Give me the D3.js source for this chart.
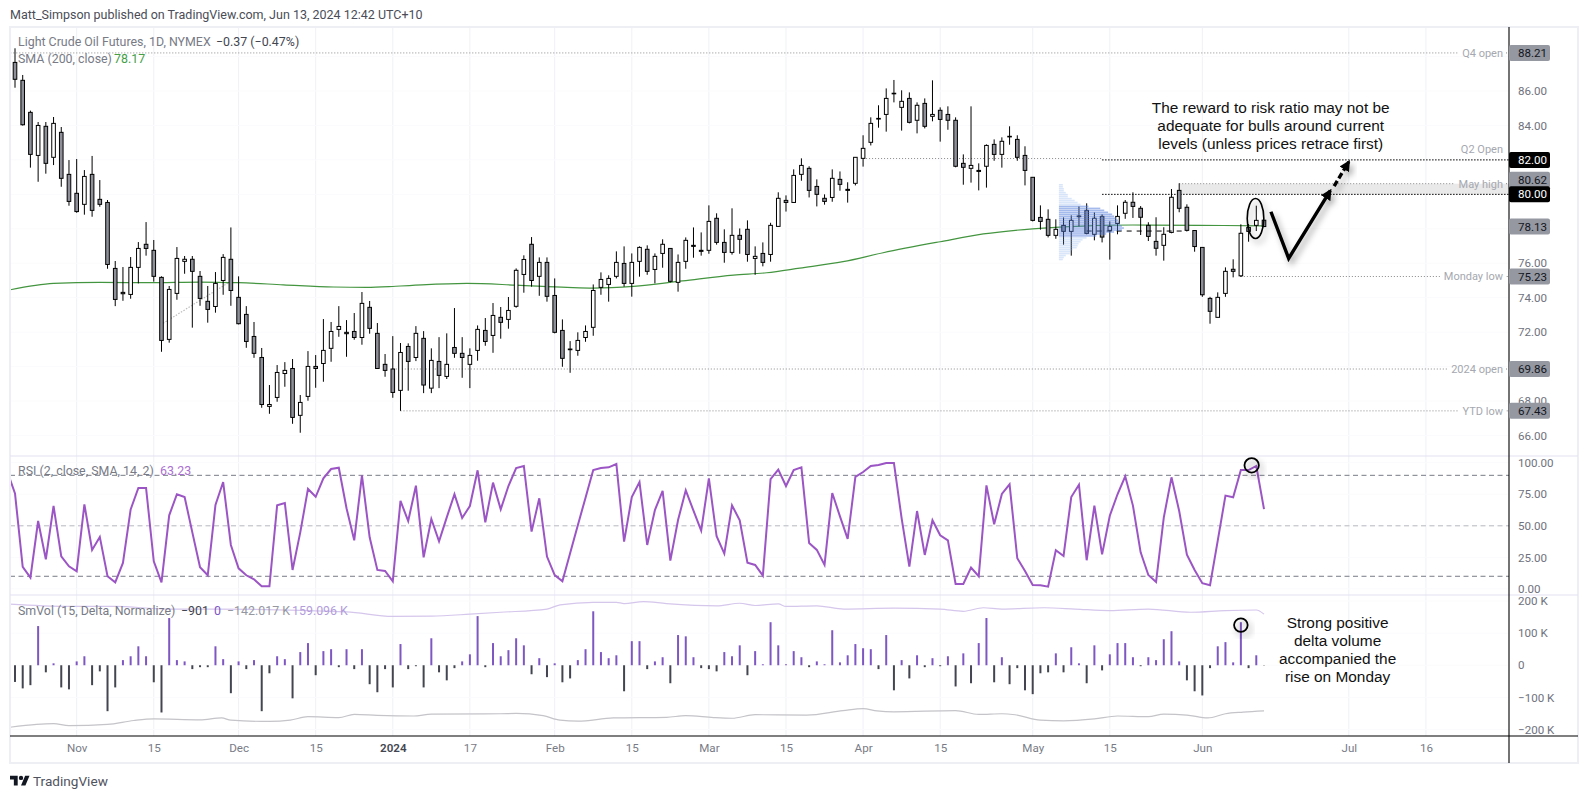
<!DOCTYPE html>
<html>
<head>
	<meta charset="utf-8"/>
	<style type="text/css">
		body{
			margin: 0;
			background: white;
		}
		svg text {
			font-family: Roboto, sans-serif;
		}
		.axis text {
			font-size: 11.6px;
			fill: #6f727d;
		}
		.note {
			font-family: "Liberation Sans", sans-serif !important;
			font-size: 15.4px;
			fill: #111;
			text-anchor: middle;
		}
	</style>
</head>
<body>

	<svg id="chart" width="1589" height="799"></svg>

	<script src="https://d3js.org/d3.v7.min.js"></script>

	<script>
		// candles, one row = 10 sessions
		const opens = [
			87.66,86.62,84.76,82.26,83.95,82.15,83.60,81.16,80.06,79.42,
			81.16,79.71,79.53,75.70,74.31,74.19,75.76,77.10,76.75,75.18,
			71.58,74.25,76.11,76.23,75.24,73.79,73.49,75.00,76.23,74.02,
			73.03,71.75,70.53,67.69,68.21,69.60,69.89,67.17,68.27,70.01,
			70.18,71.06,72.16,71.99,72.04,71.69,73.44,71.93,70.13,69.86,
			68.62,71.17,70.53,71.64,68.75,70.30,69.43,71.11,70.77,70.13,
			70.94,72.10,71.81,72.86,72.74,73.50,75.35,77.10,75.24,76.05,
			74.13,72.10,71.02,70.94,71.69,72.28,74.60,74.77,75.24,75.99,
			74.83,76.11,76.81,75.64,76.57,76.86,74.89,76.11,77.04,76.75,
			76.75,78.61,77.21,76.63,77.62,77.97,76.28,76.57,76.51,78.14,
			79.65,79.53,81.16,81.51,80.46,79.77,79.82,80.87,80.29,80.64,
			82.09,83.02,84.37,84.64,85.86,85.05,85.57,84.30,85.28,84.53,
			84.88,84.64,84.30,81.80,81.51,81.39,81.63,82.90,82.32,83.37,
			83.19,82.26,80.99,78.66,78.55,77.62,78.20,77.85,78.74,79.07,
			77.68,78.72,77.91,78.31,78.90,79.54,79.19,78.20,77.27,77.04,
			77.79,80.23,79.25,77.90,76.92,73.96,72.86,74.25,75.65,75.27,
			78.08,78.20,78.50
		];
		const highs = [
			88.48,86.93,84.86,84.20,84.20,84.49,83.91,81.99,82.05,81.41,
			82.23,80.83,79.67,76.13,75.78,76.36,77.23,78.39,77.35,75.24,
			74.68,76.94,76.42,76.42,75.55,74.68,75.49,76.53,78.08,75.24,
			73.51,72.59,71.08,68.93,70.09,70.26,70.44,68.35,70.90,70.67,
			72.76,72.59,73.51,72.70,73.11,74.33,73.81,72.53,70.73,71.77,
			71.37,71.35,72.35,72.06,71.06,71.71,71.93,73.40,71.71,71.06,
			72.39,72.82,73.69,73.46,74.04,75.70,76.46,77.52,76.34,76.34,
			75.12,72.74,71.48,71.99,72.39,74.77,75.47,75.30,76.69,76.98,
			76.57,76.98,77.04,76.57,77.39,76.86,76.51,77.50,78.08,77.79,
			79.36,78.90,77.97,79.19,78.02,78.49,76.98,77.21,78.35,80.12,
			79.94,81.45,82.09,81.63,80.87,80.00,81.45,81.33,80.70,82.15,
			83.43,84.47,85.17,86.15,86.64,86.04,85.92,85.34,85.57,86.62,
			85.05,85.11,84.47,82.32,85.11,81.80,82.90,83.19,83.31,83.95,
			83.43,82.79,80.99,79.36,79.13,78.55,78.66,78.78,79.30,79.48,
			78.95,78.84,78.43,79.36,79.67,80.12,79.32,78.38,78.67,78.09,
			80.31,80.64,79.42,77.93,76.92,74.05,74.31,75.76,76.23,78.26,
			78.28,79.34,78.50
		];
		const lows = [
			86.19,83.99,81.55,80.73,81.20,81.70,80.44,79.34,78.93,78.82,
			78.70,79.28,75.68,73.51,73.82,73.94,74.83,76.44,74.93,70.86,
			71.39,73.88,75.39,72.26,73.53,72.55,73.13,74.17,73.53,72.45,
			71.09,70.51,67.61,67.26,67.96,68.83,66.68,66.16,68.02,68.77,
			69.12,70.28,71.73,70.57,71.56,71.27,71.91,69.89,69.41,68.19,
			67.43,68.60,70.32,68.46,68.46,68.75,69.28,70.51,69.35,68.75,
			70.34,71.21,70.80,71.62,72.20,73.42,74.29,74.64,74.11,73.77,
			71.93,69.99,69.64,70.63,71.44,71.79,74.17,73.77,75.12,74.64,
			74.06,75.22,75.33,74.83,75.74,74.89,74.35,75.68,76.32,76.44,
			76.55,77.08,76.03,76.50,76.55,76.09,75.33,75.82,76.09,78.12,
			79.00,79.52,80.79,79.82,79.30,79.40,79.57,80.21,79.52,80.52,
			81.61,82.84,83.87,83.64,85.34,83.70,84.12,83.54,83.83,84.24,
			83.06,83.75,81.57,80.56,80.68,80.23,80.39,81.95,81.55,82.88,
			81.95,80.52,78.43,77.95,77.50,77.42,77.08,76.44,78.14,77.68,
			77.33,77.21,76.21,77.68,78.58,78.63,77.64,77.29,76.44,76.15,
			77.74,78.96,77.85,76.67,74.05,72.49,72.86,74.05,75.18,75.20,
			77.25,77.87,78.10
		];
		const closes = [
			86.68,84.04,82.32,84.00,81.80,84.12,80.93,79.59,79.00,81.04,
			79.07,79.42,75.93,73.90,74.23,75.76,76.86,76.86,75.24,71.52,
			74.48,76.28,76.23,75.53,73.96,73.32,74.83,76.34,74.42,72.49,
			71.46,70.77,67.80,67.80,69.66,69.78,67.05,67.92,70.01,69.89,
			70.94,72.04,72.33,71.91,71.69,73.67,72.22,69.89,69.78,68.50,
			70.82,70.30,71.93,68.93,70.36,69.49,70.13,70.77,70.53,70.65,
			72.16,71.46,72.97,72.57,73.26,75.59,76.22,75.00,76.05,74.08,
			71.99,70.48,70.98,71.52,72.04,74.42,75.06,75.12,76.05,74.83,
			76.05,76.92,75.53,76.40,77.10,74.95,76.05,77.33,76.98,76.69,
			78.43,77.21,76.63,77.62,77.39,76.51,76.40,76.05,78.20,79.77,
			79.53,81.10,81.68,80.23,80.00,79.59,80.93,80.58,80.23,82.15,
			82.67,84.12,84.41,85.57,85.87,85.40,84.18,85.17,83.95,84.64,
			84.35,84.30,81.63,81.57,81.68,81.33,82.84,82.32,83.08,83.35,
			82.15,81.39,78.49,78.43,77.62,77.97,77.85,78.49,78.72,77.73,
			78.61,77.52,78.14,78.72,79.54,79.30,78.67,77.56,76.87,77.68,
			79.83,79.19,77.91,76.97,74.17,73.21,74.02,75.53,75.53,77.74,
			77.85,78.49,78.13
		];

		// first entry is the session just left of the window
		const rsiValues = [
			93,75.7,17.4,9,53.8,23.5,65.7,25.8,17.9,14,67,
			30.9,41.2,10,5.2,20.6,63,80,80,21.9,5.2,
			58.3,75,72.8,44.8,17.1,10.8,66.5,84.7,34.8,16.3,
			10.8,7.6,2.1,2.1,66.2,68,15,44.8,79.2,73,
			87.6,95,96,63.9,38.5,90,40.9,15,14.2,6,
			69.7,53.8,81.8,25,55.4,37.7,56.7,75,56.2,65.7,
			94,52.8,84.2,63,81.5,95.8,97.4,45.4,71.8,25.6,
			11,6,28.2,50.4,72.3,94.2,95.8,96.3,99,37.5,
			72.8,84.7,34.8,62.5,77.6,22.4,54.6,78.1,62,46.2,
			87.6,41.7,28,66.2,54.4,20.8,19,10.5,87,94.5,
			81.5,94.2,96.3,36.4,30.9,19,76,57.5,39.6,88.7,
			92.6,97.4,98.2,99.8,99.8,55.9,17.7,61.7,26.9,54.4,
			42.5,38.5,3.9,3.9,16.9,10,82,51.2,75.2,82.9,
			24.3,14.2,3.1,2.9,1.8,30.6,26.1,72.8,82.6,22.7,
			66,27.4,58,75,89.2,66,29,11,5.5,56.5,
			88.4,61.7,27.2,15,4.5,2.9,38.2,73.9,72.6,94.2,
			94.2,97.4,63.23
		];

		const deltaValues = [
			-52,-72,-62,122,-22,6,-69,-75,12,28,
			-62,-19,-143,-69,16,28,59,28,-53,-147,
			147,16,12,-12,-6,-6,59,19,-87,12,
			-12,16,-143,-25,28,19,-103,41,69,-31,
			44,50,-6,50,-12,50,-59,-84,-12,-69,
			66,-12,-3,-69,84,-22,-47,-9,12,34,
			153,-6,69,28,47,84,62,-28,22,-37,
			6,-53,-41,16,50,168,41,22,31,-81,
			75,75,-12,12,25,-56,94,90,25,-9,
			-12,-19,41,28,62,-31,44,3,134,62,
			3,44,25,-6,12,3,109,9,31,66,
			53,50,-12,94,-78,16,-41,31,-6,22,
			-3,28,-66,37,-56,69,147,-53,25,-59,
			-9,-78,-90,-25,-22,37,-22,56,6,-56,
			62,-16,34,69,69,25,-3,25,16,81,
			106,12,-47,-81,-94,-9,59,72,9,134,
			-9,31,-0.9
		];

		const smaDays = [-0.6,5,11,17.5,24,29,34.8,41.3,45.6,50,58.6,65,71.6,75,80.2,86.6,93.2,97.5,101.8,107.4,112.6,120,125.6,132,138.5,145,153.7,162];
		const smaValues = [74.46,74.83,74.89,74.87,74.91,74.87,74.75,74.62,74.60,74.68,74.83,74.73,74.60,74.56,74.66,74.98,75.31,75.45,75.72,76.09,76.61,77.25,77.70,78.0,78.16,78.22,78.20,78.17];

		const upperDays = [-0.65,6.7,13,19.7,26,43,49,54,59,63,69,70.7,75,78,79,81.5,84.5,91,94,96,99,100,104,107.5,114,120,123,125.6,128,133.5,137.5,142,147,152.5,157,161,162];
		const upperBand = [190,183,183,175,175,166,152,153,159,165,175,188,196,196,192,198,192,185,193,186,191,183,185,175,178,175,168,179,175,179,175,170,175,165,170,172,159.1];
		const lowerDays = [-0.65,2.8,5,7,12,15.4,18,24,26.8,28,33,35.7,38,42,44,47,51.7,54,63,65,68.5,70.7,73,77.6,84.5,87,90.6,93,96,102.7,107.4,110,111.8,114,122,125,128,129.7,133,136,140,143,147,149,152,154.7,157,159.3,162];
		const lowerBand = [-193,-184,-182,-188,-184,-172,-167,-170,-164,-171,-175,-171,-160,-163,-153,-156,-158,-152,-151,-150,-157,-171,-174,-164,-162,-157,-163,-165,-154,-155,-141,-135,-142,-145,-141,-153,-151,-154,-171,-173,-167,-158,-160,-152,-155,-164,-151,-146,-142];

		// volume profile rows, top to bottom
		const profileTop = 80.60;
		const profileBottom = 76.15;
		const profileRows = [4,4,5,5,7,9,9,13,16,19,22,30,42,46,50,54,56,58,60,61,62,64,66,64,56,48,38,28,24,22,20,19,18,14,12,11,7,5,4];
		const valueAreaFirst = 11;
		const valueAreaLast = 26;

		const gridPrices = [88,86,84,82,80,78,76,74,72,70,68,66];
		const priceTicks = [86,84,76,74,72,68,66];
		const rsiTicks = [100,75,50,25,0];
		const rsiLevels = [90,50,10];
		const volTicks = [200,100,0,-100,-200];
		const volTickLabels = ['200 K','100 K','0','\u2212100 K','\u2212200 K'];
		const timeTicks = [8,18,29,39,49,59,70,80,90,100,110,120,132,142,154,173,183];
		const timeLabels = ['Nov','15','Dec','15','2024','17','Feb','15','Mar','15','Apr','15','May','15','Jun','Jul','16'];

		const noteNames = ['Q4 open','Q2 Open','May high','Monday low','2024 open','YTD low'];
		const notePrices = [88.21,82.08,80.62,75.23,69.86,67.43];
		const noteStarts = [-1,110,151,159,49,50];
		const tagPrices = [88.21,82.00,80.62,80.00,78.13,75.23,69.86,67.43];
		const tagDark = [false,true,false,true,false,false,false,false];

		const trendDays = [19.2,27.9];
		const trendPrices = [72.51,74.93];
		const checkDays = [162.9,165.2,170.6];
		const checkPrices = [78.99,76.28,80.21];
		const targetDays = [171.1,173];
		const targetPrices = [80.48,81.89];

		// --- layout ---
		const left = 10, right = 1578, axisX = 1509;
		const top1 = 27, top2 = 456, top3 = 595, bottom = 736, outer = 763;

		const svg = d3.select('#chart');
		const x = d3.scaleLinear().domain([0,162]).range([15,1264]);
		const yPrice = d3.scaleLinear().domain([86,74]).range([91,297.7]);
		const yRsi = d3.scaleLinear().domain([100,0]).range([462.7,588.9]);
		const yVol = d3.scaleLinear().domain([200,-200]).range([601,729.5]);
		const profileBand = d3.scaleBand().domain(d3.range(profileRows.length)).range([yPrice(profileTop), yPrice(profileBottom)]);
		const profileWidth = d3.scaleLinear().domain([0,66]).range([0,65]);

		const defs = svg.append('defs');
		defs.append('clipPath').attr('id','plot').append('rect')
			.attr('x',left).attr('y',top1).attr('width',axisX-left).attr('height',bottom-top1);
		const shadow = defs.append('filter').attr('id','shadow')
			.attr('x','-50%').attr('y','-50%').attr('width','200%').attr('height','200%');
		shadow.append('feDropShadow').attr('dx',3).attr('dy',4).attr('stdDeviation',3)
			.attr('flood-color','#000').attr('flood-opacity',0.35);
		defs.append('marker').attr('id','head').attr('markerUnits','userSpaceOnUse')
			.attr('viewBox','0 0 10 10').attr('refX',8).attr('refY',5)
			.attr('markerWidth',11).attr('markerHeight',11).attr('orient','auto')
			.append('path').attr('d','M0 0L10 5L0 10z').attr('fill','#000');

		// grid, vertical first, the horizontal ones cut through in white
		const grid = svg.append('g');
		grid.selectAll('.v').data(timeTicks).enter().append('line')
			.attr('x1',d=>x(d)).attr('x2',d=>x(d)).attr('y1',top1).attr('y2',bottom)
			.attr('stroke','#f0f1f6');
		grid.selectAll('.h').data(gridPrices).enter().append('line')
			.attr('x1',left).attr('x2',axisX).attr('y1',d=>yPrice(d)).attr('y2',d=>yPrice(d))
			.attr('stroke','#fbfbfd');
		grid.selectAll('.hr').data(rsiTicks).enter().append('line')
			.attr('x1',left).attr('x2',axisX).attr('y1',d=>yRsi(d)).attr('y2',d=>yRsi(d))
			.attr('stroke','#fbfbfd');
		grid.selectAll('.hv').data(volTicks).enter().append('line')
			.attr('x1',left).attr('x2',axisX).attr('y1',d=>yVol(d)).attr('y2',d=>yVol(d))
			.attr('stroke','#fbfbfd');

		const plot = svg.append('g').attr('clip-path','url(#plot)');

		// May high to 80 shaded zone
		plot.append('rect')
			.attr('x',x(151)).attr('width',axisX-x(151))
			.attr('y',yPrice(80.62)).attr('height',yPrice(80)-yPrice(80.62))
			.attr('fill','#e9e9e9');

		// level lines are filled in at the end, once the label widths are known
		const levels = plot.append('g');
		[82,80].forEach(function(p){
			plot.append('line').attr('x1',x(141)).attr('x2',axisX)
				.attr('y1',yPrice(p)).attr('y2',yPrice(p))
				.attr('stroke','#000').attr('stroke-dasharray','1.5 1.5');
		});
		plot.append('line')
			.attr('x1',x(trendDays[0])).attr('x2',x(trendDays[1]))
			.attr('y1',yPrice(trendPrices[0])).attr('y2',yPrice(trendPrices[1]))
			.attr('stroke','#bbb').attr('stroke-width',1.2).attr('stroke-dasharray','1.5 1.5');

		const smaLine = d3.line().x((d,i)=>x(smaDays[i])).y(d=>yPrice(d)).curve(d3.curveMonotoneX);
		plot.append('path').attr('d',smaLine(smaValues))
			.attr('fill','none').attr('stroke','#43953f').attr('stroke-width',1.2);

		// candles
		const bars = plot.append('g').selectAll('g').data(opens).enter().append('g');
		bars.append('line')
			.attr('x1',(d,i)=>x(i)).attr('x2',(d,i)=>x(i))
			.attr('y1',(d,i)=>yPrice(highs[i])).attr('y2',(d,i)=>yPrice(lows[i]))
			.attr('stroke','#000');
		bars.append('rect')
			.attr('x',(d,i)=>x(i)-1.8).attr('width',3.6)
			.attr('y',(d,i)=>yPrice(Math.max(d,closes[i])))
			.attr('height',(d,i)=>Math.max(0.6,Math.abs(yPrice(d)-yPrice(closes[i]))))
			.attr('fill',(d,i)=>closes[i]>=d ? '#fff' : '#8d9099')
			.attr('stroke','#000').attr('stroke-width',1);

		// POC dashes, then the profile on top of the candles
		plot.append('line').attr('x1',x(139)).attr('x2',x(152))
			.attr('y1',yPrice(77.87)).attr('y2',yPrice(77.87))
			.attr('stroke','#000').attr('stroke-dasharray','5 5');
		plot.append('g').selectAll('rect').data(profileRows).enter().append('rect')
			.attr('x',x(135.4)).attr('width',d=>profileWidth(d))
			.attr('y',(d,i)=>profileBand(i)).attr('height',profileBand.bandwidth()-0.4)
			.attr('fill',(d,i)=>(i>=valueAreaFirst && i<=valueAreaLast) ? '#5a7fdc' : '#88b1ee')
			.attr('fill-opacity',(d,i)=>(i>=valueAreaFirst && i<=valueAreaLast) ? 0.55 : 0.32);

		// drawn arrows and circles
		const freeLine = d3.line().x(d=>x(d[0])).y(d=>yPrice(d[1]));
		plot.append('path').attr('d',freeLine(checkDays.map((d,i)=>[d,checkPrices[i]])))
			.attr('fill','none').attr('stroke','#000').attr('stroke-width',3.4)
			.attr('marker-end','url(#head)').attr('filter','url(#shadow)');
		plot.append('path').attr('d',freeLine(targetDays.map((d,i)=>[d,targetPrices[i]])))
			.attr('fill','none').attr('stroke','#000').attr('stroke-width',3.4).attr('stroke-dasharray','6 3')
			.attr('marker-end','url(#head)').attr('filter','url(#shadow)');
		plot.append('ellipse').attr('cx',x(160.9)).attr('cy',yPrice(78.6)).attr('rx',8.3).attr('ry',20)
			.attr('fill','none').attr('stroke','#000').attr('stroke-width',1.6).attr('filter','url(#shadow)');

		// RSI pane
		rsiLevels.forEach(function(v){
			plot.append('line').attr('x1',left).attr('x2',axisX).attr('y1',yRsi(v)).attr('y2',yRsi(v))
				.attr('stroke',v==50 ? '#b7b9c0' : '#787b86').attr('stroke-dasharray','5 3.5');
		});
		const rsiLine = d3.line().x((d,i)=>x(i-1)).y(d=>yRsi(d));
		plot.append('path').attr('d',rsiLine(rsiValues))
			.attr('fill','none').attr('stroke','#9b55c4').attr('stroke-width',2);
		plot.append('circle').attr('cx',x(160.4)).attr('cy',yRsi(97.9)).attr('r',7.2)
			.attr('fill','none').attr('stroke','#000').attr('stroke-width',1.8).attr('filter','url(#shadow)');

		// delta volume pane
		plot.append('path')
			.attr('d',d3.line().x((d,i)=>x(upperDays[i])).y(d=>yVol(d)).curve(d3.curveMonotoneX)(upperBand))
			.attr('fill','none').attr('stroke','#d5c6ec').attr('stroke-width',1.2);
		plot.append('path')
			.attr('d',d3.line().x((d,i)=>x(lowerDays[i])).y(d=>yVol(d)).curve(d3.curveMonotoneX)(lowerBand))
			.attr('fill','none').attr('stroke','#c4c4c9').attr('stroke-width',1.2);
		plot.append('g').selectAll('rect').data(deltaValues).enter().append('rect')
			.attr('x',(d,i)=>x(i)-1).attr('width',2)
			.attr('y',d=>d>0 ? yVol(d) : yVol(0))
			.attr('height',d=>Math.abs(yVol(d)-yVol(0)))
			.attr('fill',d=>d>0 ? '#7e57c2' : '#434651');
		plot.append('circle').attr('cx',x(159)).attr('cy',yVol(125)).attr('r',6.8)
			.attr('fill','none').attr('stroke','#000').attr('stroke-width',1.8).attr('filter','url(#shadow)');

		// frame
		const frame = svg.append('g');
		frame.append('rect').attr('x',left).attr('y',top1).attr('width',right-left).attr('height',outer-top1)
			.attr('fill','none').attr('stroke','#eeeff5').attr('stroke-width',2);
		[top2,top3].forEach(function(t){
			frame.append('line').attr('x1',left).attr('x2',right).attr('y1',t).attr('y2',t)
				.attr('stroke','#e3e1f1').attr('stroke-width',1);
		});
		frame.append('line').attr('x1',left).attr('x2',right).attr('y1',bottom).attr('y2',bottom)
			.attr('stroke','#000').attr('stroke-width',1.1);
		frame.append('line').attr('x1',axisX).attr('x2',axisX).attr('y1',top1).attr('y2',outer)
			.attr('stroke','#000').attr('stroke-width',1.1);

		// axes
		function bare(g){
			g.select('.domain').remove();
			g.selectAll('.tick line').remove();
		}
		svg.append('g').attr('class','axis').attr('transform',`translate(${axisX},0)`)
			.call(d3.axisRight(yPrice).tickValues(priceTicks).tickFormat(d3.format('.2f')).tickPadding(3)).call(bare);
		svg.append('g').attr('class','axis').attr('transform',`translate(${axisX},0)`)
			.call(d3.axisRight(yRsi).tickValues(rsiTicks).tickFormat(d3.format('.2f')).tickPadding(3)).call(bare);
		svg.append('g').attr('class','axis').attr('transform',`translate(${axisX},0)`)
			.call(d3.axisRight(yVol).tickValues(volTicks).tickFormat((d,i)=>volTickLabels[i]).tickPadding(3)).call(bare);
		svg.append('g').attr('class','axis').attr('transform',`translate(0,${bottom})`)
			.call(d3.axisBottom(x).tickValues(timeTicks).tickFormat((d,i)=>timeLabels[i]).tickPadding(2)).call(bare)
			.selectAll('text').attr('font-weight',(d,i)=>timeLabels[i]=='2024' ? 600 : 400)
			.style('fill',(d,i)=>timeLabels[i]=='2024' ? '#434651' : '#787b86');

		// level names, each dotted line stops either side of its name
		const noteText = svg.selectAll('.notename').data(noteNames).enter().append('text')
			.attr('x',axisX-6).attr('y',(d,i)=>yPrice(notePrices[i])+(d=='Q2 Open' ? -9 : 0))
			.attr('dy','0.35em').attr('text-anchor','end')
			.attr('font-size',11).attr('fill','#a5a8b0')
			.text(d=>d);
		noteText.each(function(d,i){
			const box = this.getBBox();
			const py = yPrice(notePrices[i]);
			const parts = d=='Q2 Open' ? [[x(noteStarts[i]),x(141)]]
				: [[x(noteStarts[i]),box.x-4],[box.x+box.width+3,axisX]];
			parts.forEach(function(p){
				levels.append('line').attr('x1',p[0]).attr('x2',p[1]).attr('y1',py).attr('y2',py)
					.attr('stroke','#8a8a8a').attr('stroke-dasharray','1 2');
			});
		});

		// price tags, the 80.62 one gets pushed up clear of 80.00
		const tagY = d=>yPrice(d)-(d==80.62 ? 4 : 0);
		const tags = svg.selectAll('.tag').data(tagPrices).enter().append('g');
		tags.append('rect').attr('x',axisX).attr('width',41).attr('height',16).attr('rx',2)
			.attr('y',d=>tagY(d)-8)
			.attr('fill',(d,i)=>tagDark[i] ? '#000' : '#9598a1');
		tags.append('text').attr('x',axisX+9).attr('y',d=>tagY(d)).attr('dy','0.35em')
			.attr('font-size',11.6).attr('fill',(d,i)=>tagDark[i] ? '#fff' : '#131722')
			.text(d=>d.toFixed(2));

		// chart legends
		function legend(px,py,str,col,size){
			svg.append('text').attr('x',px).attr('y',py).attr('dy','0.35em')
				.attr('font-size',size||12.4).attr('fill',col).text(str);
		}
		legend(18,41.7,'Light Crude Oil Futures, 1D, NYMEX','#787b86');
		legend(216,41.7,'\u22120.37 (\u22120.47%)','#434651');
		legend(18,59,'SMA (200, close)','#787b86');
		legend(114,59,'78.17','#43a047');
		legend(18,471,'RSI (2, close, SMA, 14, 2)','#787b86');
		legend(160,471,'63.23','#ab6fd1');
		legend(18,611,'SmVol (15, Delta, Normalize)','#787b86');
		legend(181,611,'\u2212901','#434651');
		legend(214,611,'0','#7e57c2');
		legend(227,611,'\u2212142.017 K','#9598a1');
		legend(292,611,'159.096 K','#b39ddb');

		// text notes
		const notes = svg.append('g');
		[[1270.7,107.3,'The reward to risk ratio may not be'],
		 [1270.7,125.5,'adequate for bulls around current'],
		 [1270.7,143.3,'levels (unless prices retrace first)'],
		 [1337.6,622.7,'Strong positive'],
		 [1337.6,640.7,'delta volume'],
		 [1337.6,658.7,'accompanied the'],
		 [1337.6,676.7,'rise on Monday']].forEach(function(n){
			notes.append('text').attr('class','note').attr('x',n[0]).attr('y',n[1]).attr('dy','0.35em').text(n[2]);
		});

		// header and footer
		legend(10,15,'Matt_Simpson published on TradingView.com, Jun 13, 2024 12:42 UTC+10','#4a4d57',12.5);
		const logo = svg.append('g').attr('transform','translate(10,775.7) scale(0.55)').attr('fill','#131722');
		logo.append('path').attr('d','M14 18H7V7H0V0h14v18zM28 18h-8l7.5-18h8L28 18z');
		logo.append('circle').attr('cx',20).attr('cy',4).attr('r',4);
		legend(33,781,'TradingView','#50535e',13.6);
	</script>

</body>
</html>
